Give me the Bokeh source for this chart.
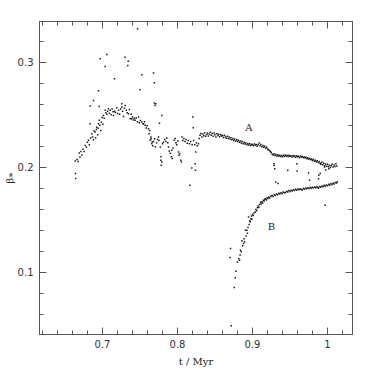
from bokeh.plotting import figure
from bokeh.models import LinearAxis, SingleIntervalTicker, CustomJSTickFormatter, ColumnDataSource
from bokeh.core.properties import value
from bokeh.embed import file_html
from bokeh.resources import INLINE

# ---- data (t in Myr, beta_*) ----
rise_pts = [(0.6636,0.2060),(0.6640,0.1940),(0.6642,0.1893),(0.6660,0.2075),(0.6675,0.2055),(0.6689,0.2136),
    (0.6700,0.2098),(0.6712,0.2150),(0.6725,0.2118),(0.6740,0.2172),(0.6755,0.2150),(0.6770,0.2208),(0.6786,0.2192),
    (0.6800,0.2240),(0.6813,0.2257),(0.6825,0.2215),(0.6836,0.2416),(0.6842,0.2280),(0.6858,0.2320),(0.6868,0.2290),
    (0.6880,0.2262),(0.6888,0.2345),(0.6902,0.2336),(0.6908,0.2282),(0.6918,0.2360),(0.6924,0.2383),(0.6935,0.2310),
    (0.6942,0.2372),(0.6947,0.2416),(0.6956,0.2448),(0.6965,0.2400),(0.6977,0.2352),(0.6985,0.2430),(0.6995,0.2475)]

peak_pts = [(0.7005,0.2410),(0.7013,0.2495),(0.7022,0.2468),(0.7036,0.2543),(0.7045,0.2520),(0.7057,0.2505),
    (0.7068,0.2535),(0.7080,0.2558),(0.7092,0.2515),(0.7103,0.2545),(0.7115,0.2500),(0.7128,0.2555),(0.7140,0.2530),
    (0.7147,0.2495),(0.7160,0.2535),(0.7172,0.2522),(0.7190,0.2568),(0.7200,0.2512),(0.7215,0.2545),(0.7228,0.2505),
    (0.7242,0.2556),(0.7257,0.2574),(0.7268,0.2535),(0.7280,0.2485),(0.7292,0.2562),(0.7303,0.2590),(0.7318,0.2545),
    (0.7330,0.2520),(0.7347,0.2511),(0.7358,0.2552),(0.7370,0.2463),(0.7382,0.2505),(0.7390,0.2463),(0.7400,0.2480),
    (0.7412,0.2450),(0.7425,0.2468),(0.7436,0.2448),(0.7450,0.2470),(0.7465,0.2435),(0.7480,0.2479),(0.7490,0.2425),
    (0.7505,0.2445),(0.7524,0.2431),(0.7540,0.2415),(0.7547,0.2416),(0.7560,0.2435),(0.7570,0.2400),(0.7582,0.2375),
    (0.7595,0.2395)]

fall_pts = [(0.7613,0.2368),(0.7620,0.2320),(0.7630,0.2352),(0.7636,0.2257),(0.7645,0.2290),(0.7649,0.2273),
    (0.7657,0.2225),(0.7662,0.2241),(0.7670,0.2205),(0.7680,0.2245),(0.7695,0.2273),(0.7705,0.2195),(0.7720,0.2235),
    (0.7735,0.2265),(0.7747,0.2289),(0.7752,0.2255),(0.7760,0.2420),(0.7770,0.2193),(0.7777,0.2067),(0.7780,0.2100),
    (0.7782,0.2020),(0.7790,0.2050),(0.7800,0.2225),(0.7813,0.2239),(0.7830,0.2265),(0.7845,0.2245),(0.7857,0.2280),
    (0.7870,0.2235),(0.7880,0.2193),(0.7890,0.2155),(0.7905,0.2135),(0.7918,0.2100),(0.7924,0.2162),(0.7930,0.2085),
    (0.7940,0.2185),(0.7956,0.2257),(0.7970,0.2275),(0.7980,0.2235),(0.7990,0.2215),(0.8005,0.2250),(0.8013,0.2146),
    (0.8020,0.2114),(0.8028,0.2130),(0.8044,0.2067),(0.8053,0.2050),(0.8060,0.2290),(0.8070,0.2255),(0.8085,0.2275),
    (0.8100,0.2245),(0.8115,0.2265),(0.8130,0.2230),(0.8145,0.2255),(0.8160,0.2225),(0.8164,0.1829),(0.8175,0.2245),
    (0.8190,0.1993),(0.8195,0.2215),(0.8210,0.2378),(0.8215,0.2255),(0.8230,0.2215),(0.8236,0.2035),(0.8240,0.1971),
    (0.8244,0.2146),(0.8252,0.2235),(0.8265,0.2205),(0.8280,0.2225),(0.8290,0.2275)]

branch_a_pts = [(0.8300,0.2305),(0.8312,0.2322),(0.8325,0.2290),(0.8338,0.2318),(0.8350,0.2300),(0.8362,0.2330),
    (0.8375,0.2295),(0.8388,0.2312),(0.8400,0.2325),(0.8412,0.2298),(0.8425,0.2318),(0.8438,0.2335),(0.8450,0.2305),
    (0.8462,0.2322),(0.8475,0.2296),(0.8488,0.2328),(0.8500,0.2310),(0.8512,0.2290),(0.8525,0.2320),(0.8538,0.2302),
    (0.8550,0.2315),(0.8562,0.2292),(0.8575,0.2310),(0.8588,0.2298),(0.8600,0.2302),(0.8612,0.2285),(0.8625,0.2305),
    (0.8638,0.2290),(0.8650,0.2278),(0.8662,0.2296),(0.8675,0.2275),(0.8688,0.2290),(0.8700,0.2268),(0.8712,0.2282),
    (0.8725,0.2262),(0.8738,0.2275),(0.8750,0.2255),(0.8762,0.2270),(0.8775,0.2250),(0.8788,0.2262),(0.8800,0.2245),
    (0.8812,0.2258),(0.8825,0.2238),(0.8838,0.2250),(0.8850,0.2232),(0.8862,0.2245),(0.8875,0.2225),(0.8888,0.2240),
    (0.8900,0.2222),(0.8912,0.2232),(0.8925,0.2215),(0.8938,0.2228),(0.8950,0.2212),(0.8962,0.2225),(0.8975,0.2208),
    (0.8988,0.2220),(0.9000,0.2215),(0.9012,0.2205),(0.9025,0.2222),(0.9038,0.2210),(0.9050,0.2218),(0.9062,0.2200),
    (0.9075,0.2215),(0.9088,0.2232),(0.9100,0.2205),(0.9112,0.2218),(0.9125,0.2195),(0.9138,0.2208),(0.9150,0.2190),
    (0.9162,0.2200),(0.9175,0.2182),(0.9188,0.2192),(0.9200,0.2175),(0.9212,0.2168),(0.9225,0.2160),(0.9238,0.2150),
    (0.9250,0.2142),(0.9262,0.2125),(0.9275,0.2118),(0.9288,0.2130),(0.9300,0.2112),(0.9312,0.2122),(0.9325,0.2108),
    (0.9338,0.2118),(0.9350,0.2105),(0.9362,0.2115),(0.9375,0.2102),(0.9388,0.2112),(0.9400,0.2100),(0.9412,0.2115),
    (0.9425,0.2105),(0.9438,0.2118),(0.9450,0.2108),(0.9462,0.2112),(0.9475,0.2102),(0.9488,0.2115),(0.9500,0.2105),
    (0.9512,0.2110),(0.9525,0.2098),(0.9538,0.2112),(0.9550,0.2102),(0.9562,0.2108),(0.9575,0.2095),(0.9588,0.2110),
    (0.9600,0.2100),(0.9612,0.2105),(0.9625,0.2092),(0.9638,0.2108),(0.9650,0.2098),(0.9662,0.2102),(0.9675,0.2090),
    (0.9688,0.2100),(0.9700,0.2088),(0.9712,0.2095),(0.9725,0.2082),(0.9738,0.2090),(0.9750,0.2078),(0.9762,0.2085),
    (0.9775,0.2072),(0.9788,0.2080),(0.9800,0.2065),(0.9812,0.2075),(0.9825,0.2058),(0.9838,0.2068),(0.9850,0.2052),
    (0.9862,0.2062),(0.9875,0.2045),(0.9888,0.2055),(0.9900,0.2040),(0.9912,0.2030),(0.9925,0.2048),(0.9938,0.2025),
    (0.9950,0.2038),(0.9962,0.2015),(0.9975,0.2032),(0.9988,0.2010),(1.0000,0.2028),(1.0012,0.2005),(1.0025,0.2020),
    (1.0038,0.1998),(1.0050,0.2015),(1.0062,0.2030),(1.0075,0.2002),(1.0088,0.2022),(1.0100,0.2008),(1.0112,0.2035),
    (1.0125,0.2012)]

branch_b_pts = [(0.8700,0.1140),(0.8707,0.1226),(0.8716,0.0490),(0.8756,0.0855),(0.8770,0.0946),(0.8778,0.1010),
    (0.8800,0.1098),(0.8817,0.1127),(0.8827,0.1114),(0.8835,0.1165),(0.8840,0.1210),(0.8850,0.1195),(0.8860,0.1300),
    (0.8868,0.1252),(0.8880,0.1273),(0.8888,0.1318),(0.8895,0.1290),(0.8907,0.1400),(0.8915,0.1345),(0.8924,0.1400),
    (0.8932,0.1372),(0.8940,0.1425),(0.8947,0.1527),(0.8955,0.1455),(0.8962,0.1490),(0.8970,0.1480),(0.8978,0.1510),
    (0.8985,0.1535),(0.8992,0.1505),(0.9000,0.1550),(0.9010,0.1540),(0.9020,0.1565),(0.9036,0.1575),(0.9045,0.1598),
    (0.9055,0.1585),(0.9065,0.1615),(0.9075,0.1630),(0.9085,0.1620),(0.9095,0.1645),(0.9107,0.1667),(0.9115,0.1650),
    (0.9125,0.1672),(0.9135,0.1660),(0.9145,0.1685),(0.9155,0.1678),(0.9165,0.1695),(0.9173,0.1700),(0.9185,0.1688),
    (0.9195,0.1710),(0.9205,0.1702),(0.9218,0.1718),(0.9230,0.1708),(0.9245,0.1725),(0.9260,0.1730),(0.9275,0.1722),
    (0.9290,0.1738),(0.9305,0.1732),(0.9320,0.1745),(0.9335,0.1738),(0.9350,0.1752),(0.9365,0.1745),(0.9380,0.1758),
    (0.9395,0.1750),(0.9410,0.1765),(0.9425,0.1758),(0.9440,0.1760),(0.9455,0.1772),(0.9470,0.1765),(0.9485,0.1778),
    (0.9500,0.1770),(0.9515,0.1782),(0.9530,0.1775),(0.9545,0.1785),(0.9560,0.1778),(0.9575,0.1790),(0.9590,0.1782),
    (0.9605,0.1792),(0.9620,0.1786),(0.9635,0.1795),(0.9650,0.1788),(0.9663,0.1784),(0.9678,0.1798),(0.9692,0.1790),
    (0.9708,0.1802),(0.9722,0.1795),(0.9738,0.1805),(0.9752,0.1798),(0.9768,0.1808),(0.9782,0.1800),(0.9798,0.1810),
    (0.9812,0.1802),(0.9828,0.1812),(0.9842,0.1805),(0.9858,0.1815),(0.9872,0.1808),(0.9880,0.1800),(0.9895,0.1818),
    (0.9910,0.1810),(0.9925,0.1822),(0.9940,0.1815),(0.9955,0.1828),(0.9970,0.1820),(0.9985,0.1832),(1.0000,0.1825),
    (1.0015,0.1838),(1.0030,0.1830),(1.0045,0.1842),(1.0060,0.1835),(1.0075,0.1848),(1.0090,0.1840),(1.0105,0.1855),
    (1.0120,0.1850),(1.0130,0.1862)]

high_scatter_pts = [(0.7467,0.3320),(0.6970,0.3035),(0.7057,0.3076),(0.7036,0.2960),(0.7300,0.3050),(0.7343,0.3010),
    (0.7337,0.2970),(0.7160,0.2845),(0.6947,0.2730),(0.7524,0.2883),(0.7500,0.2740),(0.7680,0.2898),(0.7690,0.2807),
    (0.7710,0.2607),(0.6880,0.2638),(0.6836,0.2584),(0.6956,0.2580),(0.7790,0.2495),(0.8204,0.2479),(0.7257,0.2607),
    (0.7693,0.2612),(0.7700,0.2590)]

mid_scatter_pts = [(0.9284,0.2035),(0.9296,0.1987),(0.9310,0.1860),(0.9340,0.1845),(0.9470,0.1971),(0.9591,0.2035),
    (0.9596,0.1965),(0.9747,0.1946),(0.9760,0.1876),(0.9880,0.1892),(0.9884,0.1924),(0.9903,0.1940),(0.9907,0.2035),
    (0.9960,0.2003),(0.9975,0.1975),(1.0017,0.1987),(0.9969,0.1638),(0.9290,0.2018)]

label_t = [0.895, 0.9253]
label_beta = [0.2384, 0.1438]
label_text = ["A", "B"]

x_title = "t / Myr"
y_title = "β⁎"

# ---- figure ----
all_pts = rise_pts + peak_pts + fall_pts + branch_a_pts + branch_b_pts + high_scatter_pts + mid_scatter_pts
src = ColumnDataSource(dict(t=[q[0] for q in all_pts], b=[q[1] for q in all_pts]))

p = figure(frame_width=313, frame_height=313, x_range=(0.616, 1.0333), y_range=(0.0406, 0.339),
           output_backend="svg", toolbar_location=None,
           x_axis_location=None, y_axis_location=None,
           min_border_left=33, min_border_right=4, min_border_top=21, min_border_bottom=32)
p.xgrid.visible = False
p.ygrid.visible = False
p.outline_line_color = "#555555"
p.background_fill_color = "white"
p.border_fill_color = "white"

fmt = CustomJSTickFormatter(code="return String(Math.round(tick*10)/10);")
blank = CustomJSTickFormatter(code="return '';")
axis_col = "#555555"

def style(ax, show_labels):
    ax.axis_line_color = axis_col
    ax.major_tick_line_color = axis_col
    ax.minor_tick_line_color = axis_col
    ax.major_tick_in = 7
    ax.major_tick_out = 0
    ax.minor_tick_in = 4
    ax.minor_tick_out = 0
    if show_labels:
        ax.major_label_text_font = "DejaVu Sans"
        ax.major_label_text_font_size = "10px"
        ax.major_label_text_color = "#333333"
        ax.formatter = fmt
    else:
        ax.formatter = blank
        ax.major_label_text_font_size = "1px"
        ax.major_label_standoff = 0

xb = LinearAxis(ticker=SingleIntervalTicker(interval=0.1, num_minor_ticks=5))
style(xb, True)
xb.major_label_standoff = 5
xb.axis_label = x_title
xb.axis_label_text_font = "DejaVu Serif"
xb.axis_label_text_font_style = "normal"
xb.axis_label_text_font_size = "10px"
xb.axis_label_text_color = "#222222"
xb.axis_label_standoff = 5
p.add_layout(xb, "below")

yl = LinearAxis(ticker=SingleIntervalTicker(interval=0.1, num_minor_ticks=5))
style(yl, True)
yl.major_label_standoff = 6
yl.axis_label = y_title
yl.axis_label_text_font = "DejaVu Serif"
yl.axis_label_text_font_style = "normal"
yl.axis_label_text_font_size = "10px"
yl.axis_label_text_color = "#222222"
yl.axis_label_standoff = 0
p.add_layout(yl, "left")

xt = LinearAxis(ticker=SingleIntervalTicker(interval=0.1, num_minor_ticks=5))
style(xt, False)
p.add_layout(xt, "above")
yr = LinearAxis(ticker=SingleIntervalTicker(interval=0.1, num_minor_ticks=5))
style(yr, False)
p.add_layout(yr, "right")

p.scatter("t", "b", source=src, marker="square", size=1.5, fill_color="black", fill_alpha=0.9, line_color=None)

p.text(x=label_t, y=label_beta, text=label_text, text_font=value("DejaVu Serif"),
       text_font_size="10px", text_align="center", text_baseline="middle", text_color="#222222")

open("out.html", "w").write(file_html(p, INLINE))
